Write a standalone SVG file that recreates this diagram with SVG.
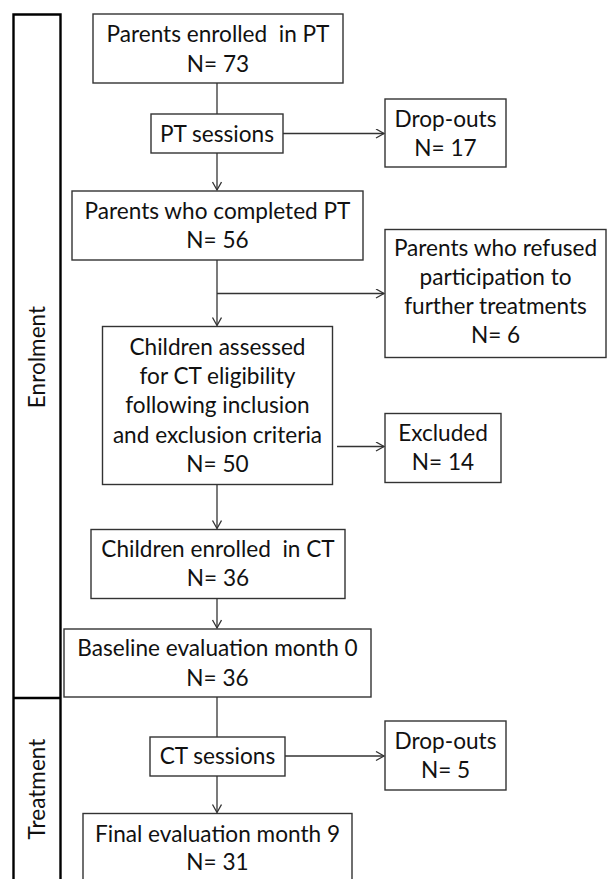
<svg xmlns="http://www.w3.org/2000/svg" width="607" height="879" viewBox="0 0 607 879">
<defs>
<marker id="arr" markerUnits="userSpaceOnUse" markerWidth="12" markerHeight="12" refX="9" refY="5" orient="auto">
<path d="M1,0.5 L9,5 L1,9.5" fill="none" stroke="#333" stroke-width="1.3"/>
</marker>
</defs>
<style>
.box{fill:#fff;stroke:#333;stroke-width:1.4}
.t{font-family:Lato,"Liberation Sans",sans-serif;font-size:22.6px;fill:#111;text-anchor:middle;white-space:pre}
.c{fill:none;stroke:#333;stroke-width:1.3}
.bar{fill:none;stroke:#000;stroke-width:2.4}
</style>
<rect width="607" height="879" fill="#fff"/>
<g id="phases">
<path class="bar" d="M13.5,881 V14.5 H60.5 V881 M13.5,698 H60.5"/>
<text class="t" transform="translate(45,357) rotate(-90)">Enrolment</text>
<text class="t" transform="translate(45,789) rotate(-90)">Treatment</text>
</g>
<g id="connectors">
<path class="c" d="M217,83 V114"/>
<path class="c" d="M217,153 V190" marker-end="url(#arr)"/>
<path class="c" d="M283,133.5 H384" marker-end="url(#arr)"/>
<path class="c" d="M217,260 V325.5" marker-end="url(#arr)"/>
<path class="c" d="M217,293.5 H384" marker-end="url(#arr)"/>
<path class="c" d="M337,446.5 H384" marker-end="url(#arr)"/>
<path class="c" d="M217,484 V528.5" marker-end="url(#arr)"/>
<path class="c" d="M217,598 V628" marker-end="url(#arr)"/>
<path class="c" d="M217,697 V737"/>
<path class="c" d="M285,756 H384" marker-end="url(#arr)"/>
<path class="c" d="M217,776 V812.5" marker-end="url(#arr)"/>
</g>
<g id="n1"><rect class="box" x="93" y="14" width="250" height="69"/>
<text class="t" x="218" y="42">Parents enrolled  in PT</text><text class="t" x="218" y="72">N= 73</text></g>
<g id="n2"><rect class="box" x="151" y="114" width="132" height="39"/>
<text class="t" x="217" y="141.5">PT sessions</text></g>
<g id="n3"><rect class="box" x="385" y="99" width="121" height="68"/>
<text class="t" x="445.5" y="126.5">Drop-outs</text><text class="t" x="445.5" y="155.5">N= 17</text></g>
<g id="n4"><rect class="box" x="72" y="191" width="291" height="69"/>
<text class="t" x="217.5" y="218.5">Parents who completed PT</text><text class="t" x="217.5" y="248">N= 56</text></g>
<g id="n5"><rect class="box" x="385" y="229.5" width="221" height="128"/>
<text class="t" x="495.5" y="256">Parents who refused</text><text class="t" x="495.5" y="285">participation to</text><text class="t" x="495.5" y="314">further treatments</text><text class="t" x="495.5" y="343">N= 6</text></g>
<g id="n6"><rect class="box" x="102.5" y="326.5" width="230" height="158"/>
<text class="t" x="217.5" y="355">Children assessed</text><text class="t" x="217.5" y="384">for CT eligibility</text><text class="t" x="217.5" y="413">following inclusion</text><text class="t" x="217.5" y="442.5">and exclusion criteria</text><text class="t" x="217.5" y="471.5">N= 50</text></g>
<g id="n7"><rect class="box" x="385" y="413.5" width="116" height="69"/>
<text class="t" x="443" y="441">Excluded</text><text class="t" x="443" y="470">N= 14</text></g>
<g id="n8"><rect class="box" x="91" y="529.5" width="254" height="69"/>
<text class="t" x="218" y="556.5">Children enrolled  in CT</text><text class="t" x="218" y="586">N= 36</text></g>
<g id="n9"><rect class="box" x="64" y="629" width="307" height="68"/>
<text class="t" x="217.5" y="656">Baseline evaluation month 0</text><text class="t" x="217.5" y="686">N= 36</text></g>
<g id="n10"><rect class="box" x="150" y="737" width="135" height="39"/>
<text class="t" x="217.5" y="763.5">CT sessions</text></g>
<g id="n11"><rect class="box" x="385" y="721" width="121" height="69"/>
<text class="t" x="445.5" y="749">Drop-outs</text><text class="t" x="445.5" y="778">N= 5</text></g>
<g id="n12"><rect class="box" x="83" y="813.5" width="269" height="70"/>
<text class="t" x="217.5" y="841.5">Final evaluation month 9</text><text class="t" x="217.5" y="870">N= 31</text></g>
</svg>
